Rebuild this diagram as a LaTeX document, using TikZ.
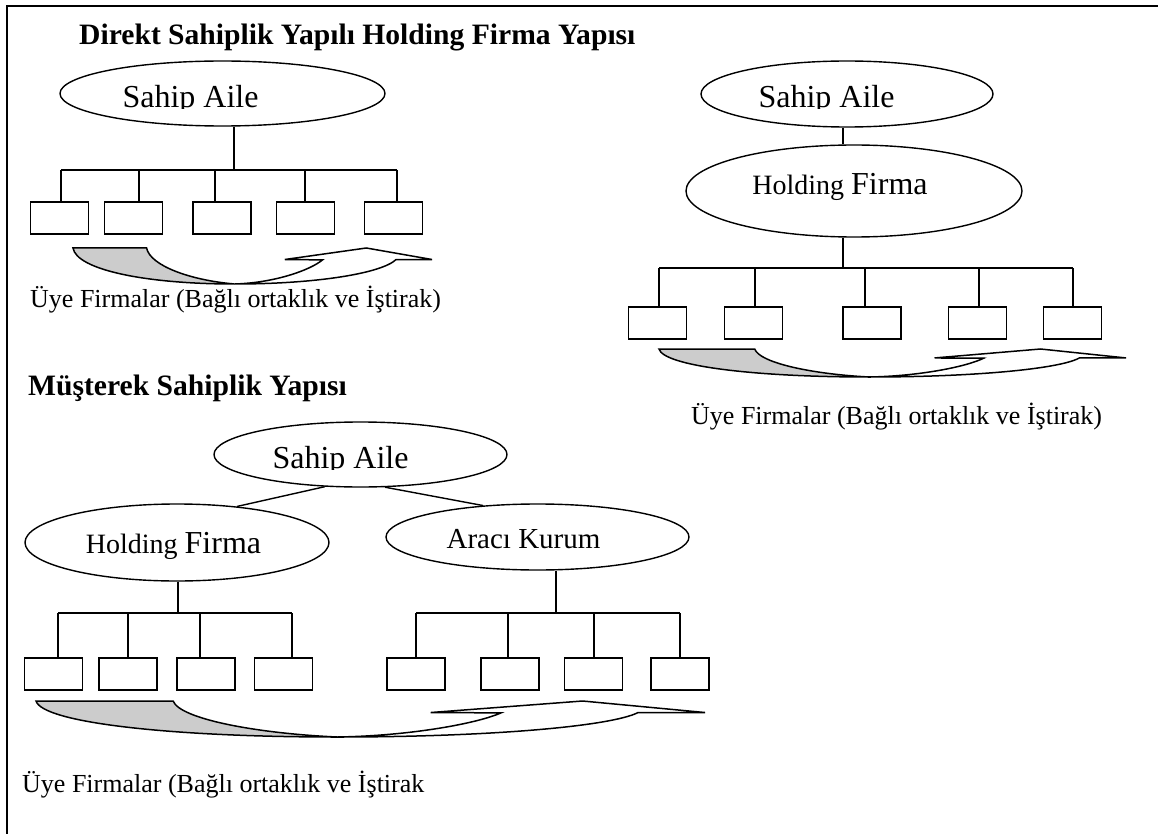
\documentclass[tikz,border=0pt]{standalone}
\usepackage{fontspec}
\setmainfont{Liberation Serif}
\usetikzlibrary{shapes.geometric}

\newcommand\famtext{\fontsize{32}{36}\selectfont}
\newcommand\holdtext{{\fontsize{28}{32}\selectfont Holding }{\fontsize{32}{36}\selectfont Firma}}

\tikzset{
  org/.style={draw, ellipse, inner sep=0pt, line width=1.4pt},
  member/.style={draw, rectangle, inner sep=0pt, minimum height=32pt, minimum width=58pt, line width=1.6pt},
  link/.style={line width=1.4pt},
  heading/.style={inner sep=0pt, anchor=base west, font=\fontsize{29.6}{34}\selectfont\bfseries},
  caption/.style={inner sep=0pt, anchor=base west, font=\fontsize{26}{30}\selectfont},
  orgtext/.style={inner sep=0pt, anchor=base},
  pics/flowarrow/.style={code={
    % back face of the curved arrow
    \path[draw, line width=1.5pt, fill=gray!40]
      (0,0) -- (0.205,0) .. controls (0.215,0.5) and (0.33,0.9) .. (0.45,1)
      .. controls (0.2,1) and (0.01,0.6) .. (0,0) -- cycle;
    % front face with the arrow head
    \path[draw, line width=1.5pt, fill=white]
      (0.45,1) .. controls (0.56,0.97) and (0.66,0.62) .. (0.695,0.33)
      -- (0.59,0.32) -- (0.817,0) -- (1,0.32) -- (0.9,0.32)
      .. controls (0.86,0.7) and (0.68,1) .. (0.45,1) -- cycle;
  }},
}

\begin{document}
\begin{tikzpicture}[x=1pt,y=-1pt]
\useasboundingbox (0,0) rectangle (1158,834);

% outer frame (top and left rules)
\draw[line width=2.2pt] (7,834) -- (7,6) -- (1158,6);

% ---------- Direkt sahiplik ----------
\node[heading] (t1) at (79,45) {Direkt Sahiplik Yapılı Holding Firma Yapısı};
\node[org, minimum width=325pt, minimum height=65pt] (a1) at (222.5,93.5) {};
\begin{scope}
  \clip (100,70) rectangle (300,109);
  \node[orgtext, font=\famtext] (a1t) at (190.5,108) {Sahip Aile};
\end{scope}

\coordinate (j1) at (234,170);
\draw[link] (a1.south -| j1) -- (j1);
\foreach \i/\dx/\bx in {1/61/59.5, 2/139/133.5, 3/215/222, 4/305/305.5, 5/397/393.5} {
  \coordinate (d1\i) at (\dx,170);
  \node[member] (b1\i) at (\bx,218) {};
  \draw[link] (d1\i) -- (d1\i |- b1\i.north);
}
\draw[link] (d11) -- (d15);
\pic[xscale=359, yscale=36] (f1) at (73,248) {flowarrow};
\node[caption] (c1) at (30,307) {Üye Firmalar (Bağlı ortaklık ve İştirak)};

% ---------- Holding üzerinden sahiplik ----------
\node[org, minimum width=292pt, minimum height=66pt] (a2) at (847,94) {};
\begin{scope}
  \clip (720,70) rectangle (960,109);
  \node[orgtext, font=\famtext] (a2t) at (826.5,108) {Sahip Aile};
\end{scope}
\node[org, minimum width=336pt, minimum height=92pt] (h2) at (854,191) {};
\node[orgtext] (h2t) at (840,195) {\holdtext};

\coordinate (j2) at (843,268);
\draw[link] (a2.south -| j2) -- (h2.north -| j2);
\draw[link] (h2.south -| j2) -- (j2);
\foreach \i/\dx/\bx in {1/659/657.5, 2/755/753.5, 3/865/872, 4/979/977.5, 5/1073/1072.5} {
  \coordinate (d2\i) at (\dx,268);
  \node[member] (b2\i) at (\bx,323) {};
  \draw[link] (d2\i) -- (d2\i |- b2\i.north);
}
\draw[link] (d21) -- (d25);
\pic[xscale=467, yscale=28] (f2) at (659,349) {flowarrow};
\node[caption] (c2) at (691,424) {Üye Firmalar (Bağlı ortaklık ve İştirak)};

% ---------- Müşterek sahiplik ----------
\node[heading] (t3) at (28,395) {Müşterek Sahiplik Yapısı};
\node[org, minimum width=293pt, minimum height=65pt] (a3) at (360.5,454.5) {};
\begin{scope}
  \clip (240,430) rectangle (480,469);
  \node[orgtext, font=\famtext] (a3t) at (340.5,468) {Sahip Aile};
\end{scope}
\node[org, minimum width=304pt, minimum height=77pt] (h3) at (177,542.5) {};
\node[orgtext] (h3t) at (173.5,553) {\holdtext};
\node[org, minimum width=303pt, minimum height=66pt] (k3) at (537.5,537) {};
\node[orgtext, font=\fontsize{29}{33}\selectfont] (k3t) at (523.5,548) {Aracı Kurum};

\draw[link] (a3.222) -- (h3.31);
\draw[link] (a3.307) -- (k3.150);

\coordinate (j3a) at (178,613);
\coordinate (j3b) at (556,613);
\draw[link] (h3.south -| j3a) -- (j3a);
\draw[link] (k3.south -| j3b) -- (j3b);
\foreach \i/\dx/\bx in {1/58/53.5, 2/128/128, 3/200/206, 4/292/283.5} {
  \coordinate (e3\i) at (\dx,613);
  \node[member] (m3\i) at (\bx,674) {};
  \draw[link] (e3\i) -- (e3\i |- m3\i.north);
}
\draw[link] (e31) -- (e34);
\foreach \i/\dx/\bx in {1/416/416, 2/508/510, 3/594/593.5, 4/680/680} {
  \coordinate (g3\i) at (\dx,613);
  \node[member] (n3\i) at (\bx,674) {};
  \draw[link] (g3\i) -- (g3\i |- n3\i.north);
}
\draw[link] (g31) -- (g34);
\pic[xscale=669, yscale=36] (f3) at (36,701) {flowarrow};
\node[caption] (c3) at (22,792) {Üye Firmalar (Bağlı ortaklık ve İştirak};

\end{tikzpicture}
\end{document}
